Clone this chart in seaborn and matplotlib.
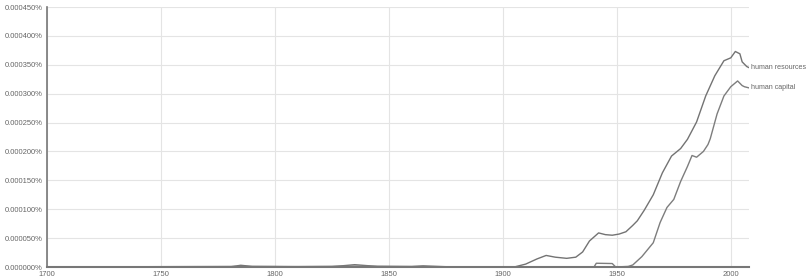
import matplotlib
matplotlib.use("Agg")
import matplotlib.pyplot as plt
import seaborn as sns
import pandas as pd

# values (percent of all words)
hr_years = [1700, 1780, 1785, 1790, 1800, 1810, 1825, 1835, 1845, 1860, 1865, 1875, 1900, 1905,
            1910, 1915, 1919, 1923, 1928, 1932, 1935, 1938, 1942, 1945, 1948, 1951, 1954, 1957,
            1959, 1962, 1966, 1970, 1974, 1978, 1981, 1985, 1989, 1993, 1997, 2000, 2002, 2004,
            2005, 2007, 2008]
hr_vals = [0, 0, 3, 1, 1, 0.5, 0.5, 4, 1, 1, 2, 0.5, 0, 0,
           5, 14, 20, 17, 15, 17, 26, 45, 59, 56, 55, 57, 61, 72,
           80, 98, 125, 163, 192, 205, 221, 251, 296, 331, 357, 362, 373, 369,
           355, 347, 345]

hc_years = [1700, 1785, 1800, 1835, 1860, 1900, 1940, 1941, 1948, 1949.5, 1955, 1957, 1961, 1966,
            1969, 1972, 1975, 1978, 1981, 1983, 1985, 1988, 1990, 1991, 1994, 1997, 2000, 2003,
            2005, 2006, 2008]
hc_vals = [0, 1, 0.5, 1.5, 0.5, 0, 0, 6.5, 6, 0, 1, 3.5, 18, 42,
           77, 103, 117, 148, 174, 193, 190, 200, 212, 222, 265, 296, 312, 322,
           314, 312, 310]

series = {"human resources": (hr_years, hr_vals), "human capital": (hc_years, hc_vals)}

rows = []
for name, (yrs, vals) in series.items():
    for y, v in zip(yrs, vals):
        rows.append({"year": y, "value": v * 1e-6, "ngram": name})
df = pd.DataFrame(rows)

sns.set_style("white")
plt.rcParams["font.family"] = ["Liberation Sans", "DejaVu Sans"]
fig = plt.figure(figsize=(8.09, 2.79), dpi=100)
ax = fig.add_axes([47 / 809, 1 - 267 / 279, 702 / 809, 260 / 279])

sns.lineplot(data=df, x="year", y="value", hue="ngram",
             palette={"human resources": "#737373", "human capital": "#7d7d7d"},
             linewidth=1.0, legend=False, ax=ax)

ax.set_xlim(1700, 2008)
ax.set_ylim(0, 0.00045)
ax.set_xticks([1700, 1750, 1800, 1850, 1900, 1950, 2000])
yt = [i * 0.00005 for i in range(10)]
ax.set_yticks(yt)
ax.set_yticklabels([f"{v:.6f}%" for v in yt])
ax.set_xlabel("")
ax.set_ylabel("")
ax.grid(True, color="#e4e4e4", linewidth=0.8)
ax.tick_params(axis="both", labelsize=5.5, labelcolor="#666666", color="#555555",
               length=2, width=0.8, direction="out", pad=1)
for s in ["top", "right"]:
    ax.spines[s].set_visible(False)
ax.spines["left"].set_color("#777777")
ax.spines["left"].set_linewidth(1.2)
ax.spines["bottom"].set_color("#777777")
ax.spines["bottom"].set_linewidth(1.5)

for name, (yrs, vals) in series.items():
    ax.annotate(name, xy=(yrs[-1], vals[-1] * 1e-6), xytext=(1.5, 0), textcoords="offset points",
                fontsize=5.1, color="#666666", va="center", ha="left", annotation_clip=False)

fig.savefig("out.png", dpi=100)
